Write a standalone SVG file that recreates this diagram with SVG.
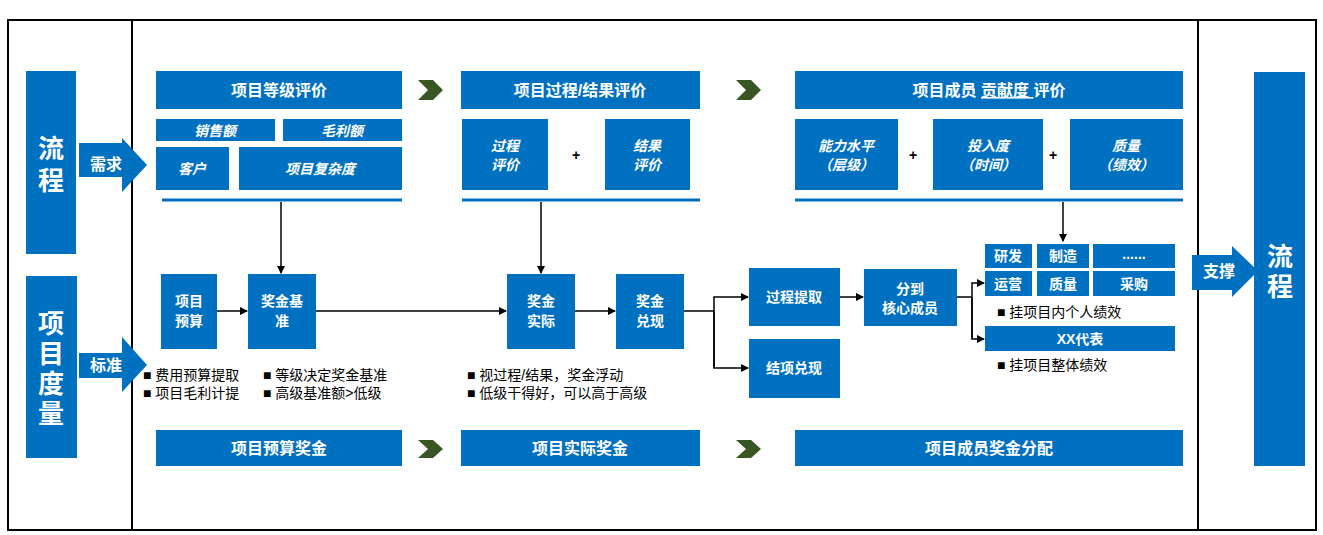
<svg xmlns="http://www.w3.org/2000/svg" width="1323" height="535" viewBox="0 0 1323 535">
<defs>
<style>
.b{fill:#0070C0}
.t{fill:#fff;font-family:"Liberation Sans","Noto Sans CJK SC",sans-serif;font-weight:bold;font-size:16px;text-anchor:middle}
.i{font-style:italic}
.s{font-size:14px}
.big{font-size:26px}
.k{fill:#000;font-family:"Liberation Sans","Noto Sans CJK SC",sans-serif;font-size:14px}
.p{fill:#000;font-family:"Liberation Sans","Noto Sans CJK SC",sans-serif;font-size:14px;font-weight:bold;text-anchor:middle}
.c{fill:#375623}
.l{stroke:#000;stroke-width:1.5;fill:none}
.u{stroke:#0070C0;stroke-width:3}
</style>
<marker id="a" markerWidth="8" markerHeight="8" refX="7" refY="4" orient="auto" markerUnits="userSpaceOnUse"><path d="M0,0L8,4L0,8z" fill="#000"/></marker>
</defs>
<rect x="8" y="20" width="1308" height="510" fill="none" stroke="#000" stroke-width="2"/>
<line x1="132" y1="20" x2="132" y2="530" stroke="#000" stroke-width="2"/>
<line x1="1198" y1="20" x2="1198" y2="530" stroke="#000" stroke-width="2"/>

<g id="left-flow"><rect class="b" x="26" y="71" width="50" height="183"/><text class="t big" x="51" y="158">流</text><text class="t big" x="51" y="190">程</text></g>
<g id="left-measure"><rect class="b" x="26" y="276" width="51" height="182"/><text class="t big" x="51" y="333">项</text><text class="t big" x="51" y="363">目</text><text class="t big" x="51" y="393">度</text><text class="t big" x="51" y="423">量</text></g>
<g id="arrow-demand"><path class="b" d="M79,143H122V138L147,165L122,192V177H79z"/><text class="t" x="106" y="170">需求</text></g>
<g id="arrow-standard"><path class="b" d="M79,353H122V337L147,365L122,392V378H79z"/><text class="t" x="106" y="371">标准</text></g>
<g id="arrow-support"><path class="b" d="M1192,255H1232V246L1258,271L1232,297V290H1192z"/><text class="t" x="1219" y="277">支撑</text></g>
<g id="right-flow"><rect class="b" x="1254" y="72" width="51" height="394"/><text class="t big" x="1280" y="266">流</text><text class="t big" x="1280" y="296">程</text></g>

<g id="h1"><rect class="b" x="156" y="71" width="246" height="38"/><text class="t" x="279" y="96">项目等级评价</text></g>
<g id="h2"><rect class="b" x="461" y="71" width="239" height="38"/><text class="t" x="580" y="96">项目过程/结果评价</text></g>
<g id="h3"><rect class="b" x="795" y="71" width="388" height="38"/><text class="t" x="989" y="96">项目成员 <tspan text-decoration="underline">贡献度 </tspan>评价</text></g>
<g id="chev"><path class="c" d="M418,80H433L443,90L433,100H418L428,90z"/><path class="c" d="M736,80H751L761,90L751,100H736L746,90z"/><path class="c" d="M418,440H433L443,449L433,458H418L428,449z"/><path class="c" d="M736,440H751L761,449L751,458H736L746,449z"/></g>

<g id="sales"><rect class="b" x="156" y="119" width="119" height="22"/><text class="t i s" x="215" y="136">销售额</text></g>
<g id="margin"><rect class="b" x="283" y="119" width="119" height="22"/><text class="t i s" x="342" y="136">毛利额</text></g>
<g id="customer"><rect class="b" x="156" y="147" width="73" height="43"/><text class="t i s" x="192" y="174">客户</text></g>
<g id="complexity"><rect class="b" x="239" y="147" width="163" height="43"/><text class="t i s" x="320" y="174">项目复杂度</text></g>
<g id="proc-eval"><rect class="b" x="462" y="119" width="86" height="71"/><text class="t i s" x="505" y="151">过程</text><text class="t i s" x="505" y="170">评价</text></g>
<text class="p" x="576" y="160">+</text>
<g id="res-eval"><rect class="b" x="605" y="119" width="85" height="71"/><text class="t i s" x="647" y="151">结果</text><text class="t i s" x="647" y="170">评价</text></g>
<g id="ability"><rect class="b" x="795" y="119" width="103" height="71"/><text class="t i s" x="846" y="151">能力水平</text><text class="t i s" x="846" y="170">（层级）</text></g>
<text class="p" x="913" y="160">+</text>
<g id="input"><rect class="b" x="933" y="119" width="110" height="71"/><text class="t i s" x="988" y="151">投入度</text><text class="t i s" x="988" y="170">（时间）</text></g>
<text class="p" x="1053" y="160">+</text>
<g id="quality"><rect class="b" x="1070" y="119" width="113" height="71"/><text class="t i s" x="1126" y="151">质量</text><text class="t i s" x="1126" y="170">（绩效）</text></g>
<line class="u" x1="162" y1="200" x2="402" y2="200"/>
<line class="u" x1="462" y1="200" x2="700" y2="200"/>
<line class="u" x1="795" y1="200" x2="1183" y2="200"/>

<g id="budget"><rect class="b" x="161" y="274" width="56" height="75"/><text class="t s" x="189" y="306">项目</text><text class="t s" x="189" y="326">预算</text></g>
<g id="base"><rect class="b" x="248" y="274" width="68" height="75"/><text class="t s" x="282" y="306">奖金基</text><text class="t s" x="282" y="326">准</text></g>
<g id="actual"><rect class="b" x="507" y="274" width="68" height="75"/><text class="t s" x="541" y="306">奖金</text><text class="t s" x="541" y="326">实际</text></g>
<g id="cash"><rect class="b" x="616" y="274" width="68" height="75"/><text class="t s" x="650" y="306">奖金</text><text class="t s" x="650" y="326">兑现</text></g>
<g id="extract"><rect class="b" x="749" y="268" width="91" height="58"/><text class="t s" x="794" y="302">过程提取</text></g>
<g id="close"><rect class="b" x="749" y="339" width="91" height="59"/><text class="t s" x="794" y="373">结项兑现</text></g>
<g id="core"><rect class="b" x="864" y="269" width="93" height="57"/><text class="t s" x="910" y="294">分到</text><text class="t s" x="910" y="313">核心成员</text></g>
<g id="rd"><rect class="b" x="985" y="244" width="47" height="24"/><text class="t s" x="1008" y="261">研发</text></g>
<g id="mfg"><rect class="b" x="1037" y="244" width="52" height="24"/><text class="t s" x="1063" y="261">制造</text></g>
<g id="more"><rect class="b" x="1093" y="244" width="82" height="24"/><text class="t s" x="1134" y="259">......</text></g>
<g id="ops"><rect class="b" x="985" y="271" width="47" height="25"/><text class="t s" x="1008" y="289">运营</text></g>
<g id="qa"><rect class="b" x="1037" y="271" width="52" height="25"/><text class="t s" x="1063" y="289">质量</text></g>
<g id="buy"><rect class="b" x="1093" y="271" width="82" height="25"/><text class="t s" x="1134" y="289">采购</text></g>
<g id="rep"><rect class="b" x="985" y="326" width="190" height="25"/><text class="t s" x="1080" y="344">XX代表</text></g>

<g id="f1"><rect class="b" x="156" y="430" width="246" height="36"/><text class="t" x="279" y="454">项目预算奖金</text></g>
<g id="f2"><rect class="b" x="461" y="430" width="239" height="36"/><text class="t" x="580" y="454">项目实际奖金</text></g>
<g id="f3"><rect class="b" x="795" y="430" width="388" height="36"/><text class="t" x="989" y="454">项目成员奖金分配</text></g>

<g id="notes">
<text class="k" x="143" y="380">■ 费用预算提取</text>
<text class="k" x="143" y="398">■ 项目毛利计提</text>
<text class="k" x="263" y="380">■ 等级决定奖金基准</text>
<text class="k" x="263" y="398">■ 高级基准额&gt;低级</text>
<text class="k" x="467" y="380">■ 视过程/结果，奖金浮动</text>
<text class="k" x="467" y="398">■ 低级干得好，可以高于高级</text>
<text class="k" x="997" y="317">■ 挂项目内个人绩效</text>
<text class="k" x="997" y="370">■ 挂项目整体绩效</text>
</g>

<g id="connectors">
<line class="l" x1="281" y1="202" x2="281" y2="273" marker-end="url(#a)"/>
<line class="l" x1="541" y1="202" x2="541" y2="273" marker-end="url(#a)"/>
<line class="l" x1="1063" y1="202" x2="1063" y2="241" marker-end="url(#a)"/>
<line class="l" x1="217" y1="311" x2="247" y2="311" marker-end="url(#a)"/>
<line class="l" x1="316" y1="311" x2="506" y2="311" marker-end="url(#a)"/>
<line class="l" x1="575" y1="311" x2="615" y2="311" marker-end="url(#a)"/>
<polyline class="l" points="684,311 714,311"/>
<polyline class="l" points="714,368 714,297 748,297" marker-end="url(#a)"/>
<polyline class="l" points="714,311 714,368 748,368" marker-end="url(#a)"/>
<line class="l" x1="840" y1="297" x2="863" y2="297" marker-end="url(#a)"/>
<polyline class="l" points="957,297 972,297"/>
<polyline class="l" points="972,339 972,283 984,283" marker-end="url(#a)"/>
<polyline class="l" points="972,297 972,339 984,339" marker-end="url(#a)"/>
</g>
</svg>
